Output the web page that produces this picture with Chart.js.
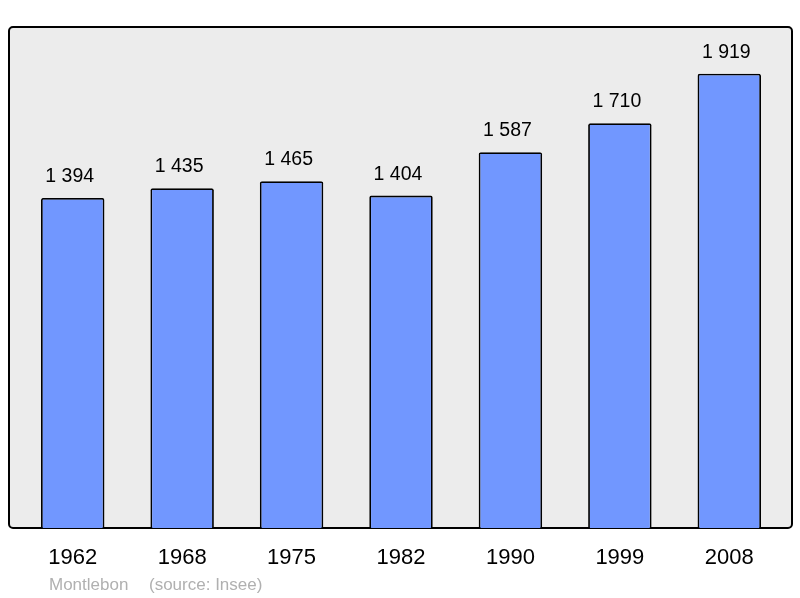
<!DOCTYPE html>
<html>
<head>
<meta charset="utf-8">
<script src="https://cdn.jsdelivr.net/npm/chart.js@4.4.0/dist/chart.umd.min.js"></script>
<style>
  html, body { margin: 0; padding: 0; background: #fff; }
  #wrap { width: 800px; height: 598px; }
</style>
</head>
<body>
<div id="wrap"><canvas id="chart_bar" width="800" height="598"></canvas></div>
<script>
// population by census year
var years = ["1962", "1968", "1975", "1982", "1990", "1999", "2008"];
var population = [1394, 1435, 1465, 1404, 1587, 1710, 1919];
var valueLabels = ["1 394", "1 435", "1 465", "1 404", "1 587", "1 710", "1 919"];
var footerLabels = ["Montlebon", "(source: Insee)"];
var yMax = 2116;

var font = "'Liberation Sans', Arial, sans-serif";

// grey frame behind the bars
var frame = {
  id: "frame",
  beforeDatasetsDraw: function(chart){
    var c = chart.ctx;
    c.save();
    c.beginPath();
    c.roundRect(9, 27, 783, 501, 4);
    c.fillStyle = "#ececec";
    c.fill();
    c.lineWidth = 2;
    c.strokeStyle = "#000";
    c.stroke();
    c.restore();
  },
  afterDatasetsDraw: function(chart){
    var c = chart.ctx;
    var meta = chart.getDatasetMeta(0);
    var xs = chart.scales.x;
    c.save();
    c.fillStyle = "#000";
    c.textAlign = "center";
    c.textBaseline = "alphabetic";
    c.font = "19.5px " + font;
    meta.data.forEach(function(bar, i){
      c.fillText(valueLabels[i], bar.x - 3, bar.y - 16);
    });
    c.font = "22px " + font;
    years.forEach(function(y, i){
      c.fillText(y, xs.getPixelForValue(i), 564);
    });
    c.textAlign = "left";
    c.fillStyle = "#b0b0b0";
    c.font = "17px " + font;
    c.fillText(footerLabels[0], 49, 590);
    c.fillText(footerLabels[1], 149, 590);
    c.restore();
  }
};

var ctx = document.getElementById("chart_bar");
var myChart = new Chart(ctx, {
  type: "bar",
  data: {
    labels: years,
    datasets: [{
      data: population,
      backgroundColor: "#7197ff",
      borderColor: "#000",
      borderWidth: 1.8,
      borderRadius: { topLeft: 2, topRight: 2 },
      borderSkipped: "bottom",
      categoryPercentage: 1,
      barPercentage: 0.58
    }]
  },
  options: {
    responsive: false,
    animation: false,
    layout: { padding: { left: 18, right: 16, top: 27, bottom: 70 } },
    plugins: { legend: { display: false }, tooltip: { enabled: false } },
    scales: {
      x: { display: false },
      y: { display: false, min: 0, max: yMax }
    }
  },
  plugins: [frame]
});
</script>
</body>
</html>
